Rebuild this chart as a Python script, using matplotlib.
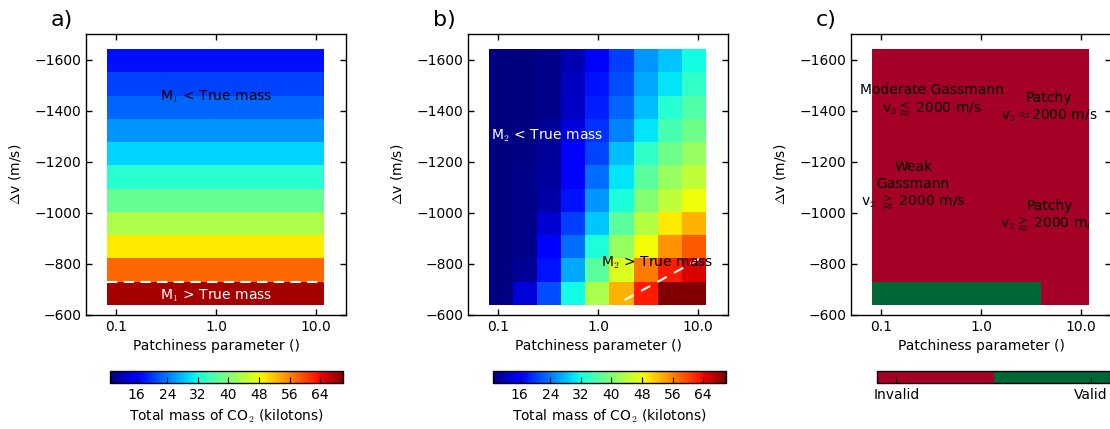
import numpy as np
import matplotlib
matplotlib.use('Agg')
import matplotlib.pyplot as plt
from matplotlib.colors import ListedColormap
from matplotlib.patches import Rectangle

plt.rcParams['font.family'] = ['DejaVu Sans']
plt.rcParams['font.size'] = 10
plt.rcParams['mathtext.fontset'] = 'cm'

# grid: patchiness (cell centres) and velocity change, bottom row first
patchiness = [0.107, 0.187, 0.325, 0.566, 0.986, 1.72, 2.99, 5.21, 9.08]
dv = [-685, -776, -867, -958, -1049, -1140, -1231, -1322, -1413, -1504, -1595]

# a) total mass from method 1 (does not depend on patchiness)
mass_1 = [67.9, 57.8, 49.5, 43.2, 37.7, 33.4, 29.3, 25.6, 22.6, 20.5, 17.5]

# b) total mass from method 2
mass_2 = [
    [8.0, 13.9, 21.2, 31.8, 43.0, 52.9, 62.7, 69.9, 70.5],
    [8.0, 10.2, 17.8, 26.8, 37.0, 46.6, 56.6, 62.7, 65.1],
    [8.0, 9.5, 16.0, 23.2, 32.5, 41.5, 48.3, 54.8, 58.7],
    [8.0, 9.5, 13.3, 20.2, 28.5, 37.0, 43.7, 49.5, 52.9],
    [8.0, 9.5, 11.3, 17.8, 25.6, 32.5, 40.0, 44.4, 48.0],
    [8.0, 9.5, 10.7, 16.0, 23.2, 30.4, 37.0, 41.5, 44.4],
    [8.0, 9.3, 10.5, 15.7, 20.8, 28.0, 34.0, 38.5, 41.5],
    [8.0, 9.0, 10.2, 13.9, 19.6, 24.4, 30.4, 35.5, 38.5],
    [8.0, 9.0, 9.6, 12.8, 18.4, 22.6, 28.0, 33.3, 36.3],
    [8.0, 9.0, 9.6, 12.4, 17.8, 21.2, 26.8, 30.4, 34.0],
    [8.0, 9.0, 9.6, 11.7, 16.0, 20.2, 25.6, 28.5, 31.8],
]

# c) validity (1 = valid)
valid = [[1, 1, 1, 1, 1, 1, 1, 0, 0]] + [[0] * 9 for _ in range(10)]

# "= true mass" boundaries
m1_line_dv = -731
m2_line_p = [1.85, 11.7]
m2_line_dv = [-659, -831]

vmin, vmax = 9, 70
cb_ticks = [16, 24, 32, 40, 48, 56, 64]


def edges(c):
    c = np.asarray(c, float)
    mid = (c[:-1] + c[1:]) / 2
    return np.concatenate([[c[0] - (c[1] - c[0]) / 2], mid, [c[-1] + (c[-1] - c[-2]) / 2]])


xe = 10 ** edges(np.log10(patchiness))
ye = edges(dv)

fig = plt.figure(figsize=(11.1, 4.29), dpi=100)
W, H = 1110., 429.
lefts = [86, 468, 851]
cb_lefts = [110, 493, 877]
axes = []
for i, l in enumerate(lefts):
    ax = fig.add_axes([l / W, (H - 315) / H, 260 / W, 281 / H])
    ax.set_xscale('log')
    ax.set_xlim(0.05, 20)
    ax.set_ylim(-600, -1700)
    ax.set_xticks([0.1, 1, 10])
    ax.set_xticklabels(['0.1', '1.0', '10.0'])
    ax.minorticks_off()
    ax.set_yticks([-1600, -1400, -1200, -1000, -800, -600])
    ax.tick_params(direction='in', top=True, right=True, length=4, width=1)
    ax.set_xlabel('Patchiness parameter ()')
    ax.set_ylabel(r'$\Delta$v (m/s)', labelpad=8)
    ax.text(-0.135, 1.03, 'abc'[i] + ')', transform=ax.transAxes, fontsize=16)
    axes.append(ax)

ax1, ax2, ax3 = axes

# a)
m1 = ax1.pcolormesh(xe[[0, -1]], ye, np.array(mass_1)[:, None], cmap='jet', vmin=vmin, vmax=vmax)
ax1.plot(xe[[0, -1]], [m1_line_dv, m1_line_dv], color='white', lw=1.5, dashes=(5, 3))
ax1.text(1.0, -1455, 'M$_1$ < True mass', ha='center', va='center')
ax1.text(1.0, -675, 'M$_1$ > True mass', ha='center', va='center', color='white')

# b)
m2 = ax2.pcolormesh(xe, ye, np.array(mass_2), cmap='jet', vmin=vmin, vmax=vmax)
ax2.plot(m2_line_p, m2_line_dv, color='white', lw=1.5, dashes=(5, 4))
ax2.text(0.31, -1303, 'M$_2$ < True mass', ha='center', va='center', color='white')
ax2.text(3.9, -804, 'M$_2$ > True mass', ha='center', va='center')

# c)
rdylgn = plt.get_cmap('RdYlGn')
cmap_c = ListedColormap([rdylgn(0.0), rdylgn(1.0)])
m3 = ax3.pcolormesh(xe, ye, np.array(valid), cmap=cmap_c, vmin=-0.1, vmax=1.1)
ax3.text(0.32, -1439, 'Moderate Gassmann\nv$_2 \\lessapprox$ 2000 m/s', ha='center', va='center')
ax3.text(4.8, -1412, 'Patchy\nv$_2 \\approx$2000 m/s', ha='center', va='center')
ax3.text(0.21, -1106, 'Weak\nGassmann\nv$_2$ $\\gtrapprox$ 2000 m/s', ha='center', va='center')
t = ax3.text(4.9, -988, 'Patchy\nv$_2\\gtrapprox$ 2000 m/s', ha='center', va='center')
clip = Rectangle((xe[0], ye[-1]), xe[-1] - xe[0], ye[0] - ye[-1], transform=ax3.transData)
t.set_clip_path(clip)
t.set_clip_on(True)

for ax in axes:
    for s in ax.spines.values():
        s.set_linewidth(1)

# colorbars
for l, m in zip(cb_lefts, [m1, m2, m3]):
    cax = fig.add_axes([l / W, (H - 383) / H, 233 / W, 12 / H])
    if m is m3:
        cb = fig.colorbar(m, cax=cax, orientation='horizontal', ticks=[0, 1])
        cb.set_ticklabels(['Invalid', 'Valid'])
    else:
        cb = fig.colorbar(m, cax=cax, orientation='horizontal', ticks=cb_ticks)
        cb.set_label('Total mass of CO$_2$ (kilotons)')
    cb.outline.set_linewidth(1)
    cax.tick_params(direction='in', length=4)

fig.savefig('out.png', dpi=100)
